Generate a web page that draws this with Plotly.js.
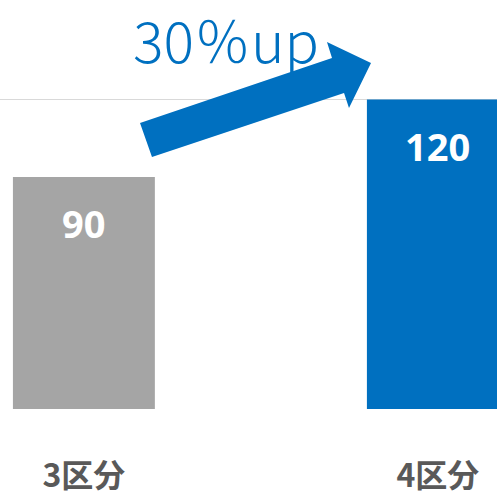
<!DOCTYPE html>
<html>
<head>
<meta charset="utf-8">
<script src="https://cdn.plot.ly/plotly-3.0.1.min.js"></script>
<style>
html,body{margin:0;padding:0;overflow:hidden;background:#fff;}
#chart{width:497px;height:492px;}
</style>
</head>
<body>
<div id="chart"></div>
<script>
// ---- data ----
const categories = ['3区分', '4区分'];
const values = [90, 120];
const barColors = ['#A5A5A5', '#0070C0'];
const gridValues = [0, 120];
const arrowLabel = '30％up';

// ---- layout helpers (pixel -> paper for the decorative arrow) ----
const W = 497, H = 492, mB = 83;
const plotH = H - mB;
function px(x) { return x / W; }
function py(y) { return (plotH - y) / plotH; }
const arrowPts = [[140,123],[332,58],[327,42],[371,63],[349,108],[344,93],[152,157]];
const arrowPath = arrowPts.map((p, i) => (i ? 'L' : 'M') + px(p[0]).toFixed(4) + ',' + py(p[1]).toFixed(4)).join(' ') + ' Z';

const trace = {
  type: 'bar',
  x: categories,
  y: values,
  width: 0.401,
  marker: { color: barColors, line: { width: 0 } },
  hoverinfo: 'skip'
};

const valueLabels = categories.map((c, i) => ({
  x: c, y: values[i], xref: 'x', yref: 'y',
  text: String(values[i]), showarrow: false,
  yshift: -46, yanchor: 'middle',
  font: { family: 'Open Sans, Noto Sans, sans-serif', size: 38, color: '#ffffff', weight: 700 }
}));

const layout = {
  width: W, height: H,
  margin: { l: 0, r: 0, t: 0, b: mB, pad: 0 },
  paper_bgcolor: '#ffffff', plot_bgcolor: '#ffffff',
  showlegend: false,
  xaxis: {
    type: 'category',
    range: [-0.237, 1.167],
    showgrid: false, zeroline: false, showline: false,
    ticks: '', ticklabelstandoff: 45,
    tickfont: { family: 'Noto Sans CJK JP, sans-serif', size: 32, color: '#595959', weight: 700 },
    fixedrange: true
  },
  yaxis: {
    range: [0, 158.6],
    tickvals: gridValues,
    showticklabels: false,
    showgrid: true, gridcolor: '#D9D9D9', gridwidth: 1.5,
    zeroline: false, showline: false,
    fixedrange: true
  },
  shapes: [{
    type: 'path', xref: 'paper', yref: 'paper',
    path: arrowPath,
    fillcolor: '#0070C0', line: { width: 0 }
  }],
  annotations: valueLabels.concat([{
    xref: 'paper', yref: 'paper',
    x: px(131), y: py(38), xanchor: 'left', yanchor: 'middle',
    text: arrowLabel, showarrow: false,
    font: { family: 'Noto Sans CJK JP, sans-serif', size: 57, color: '#0070C0', weight: 300 }
  }])
};

Plotly.newPlot('chart', [trace], layout, { displayModeBar: false, staticPlot: true });
</script>
</body>
</html>
